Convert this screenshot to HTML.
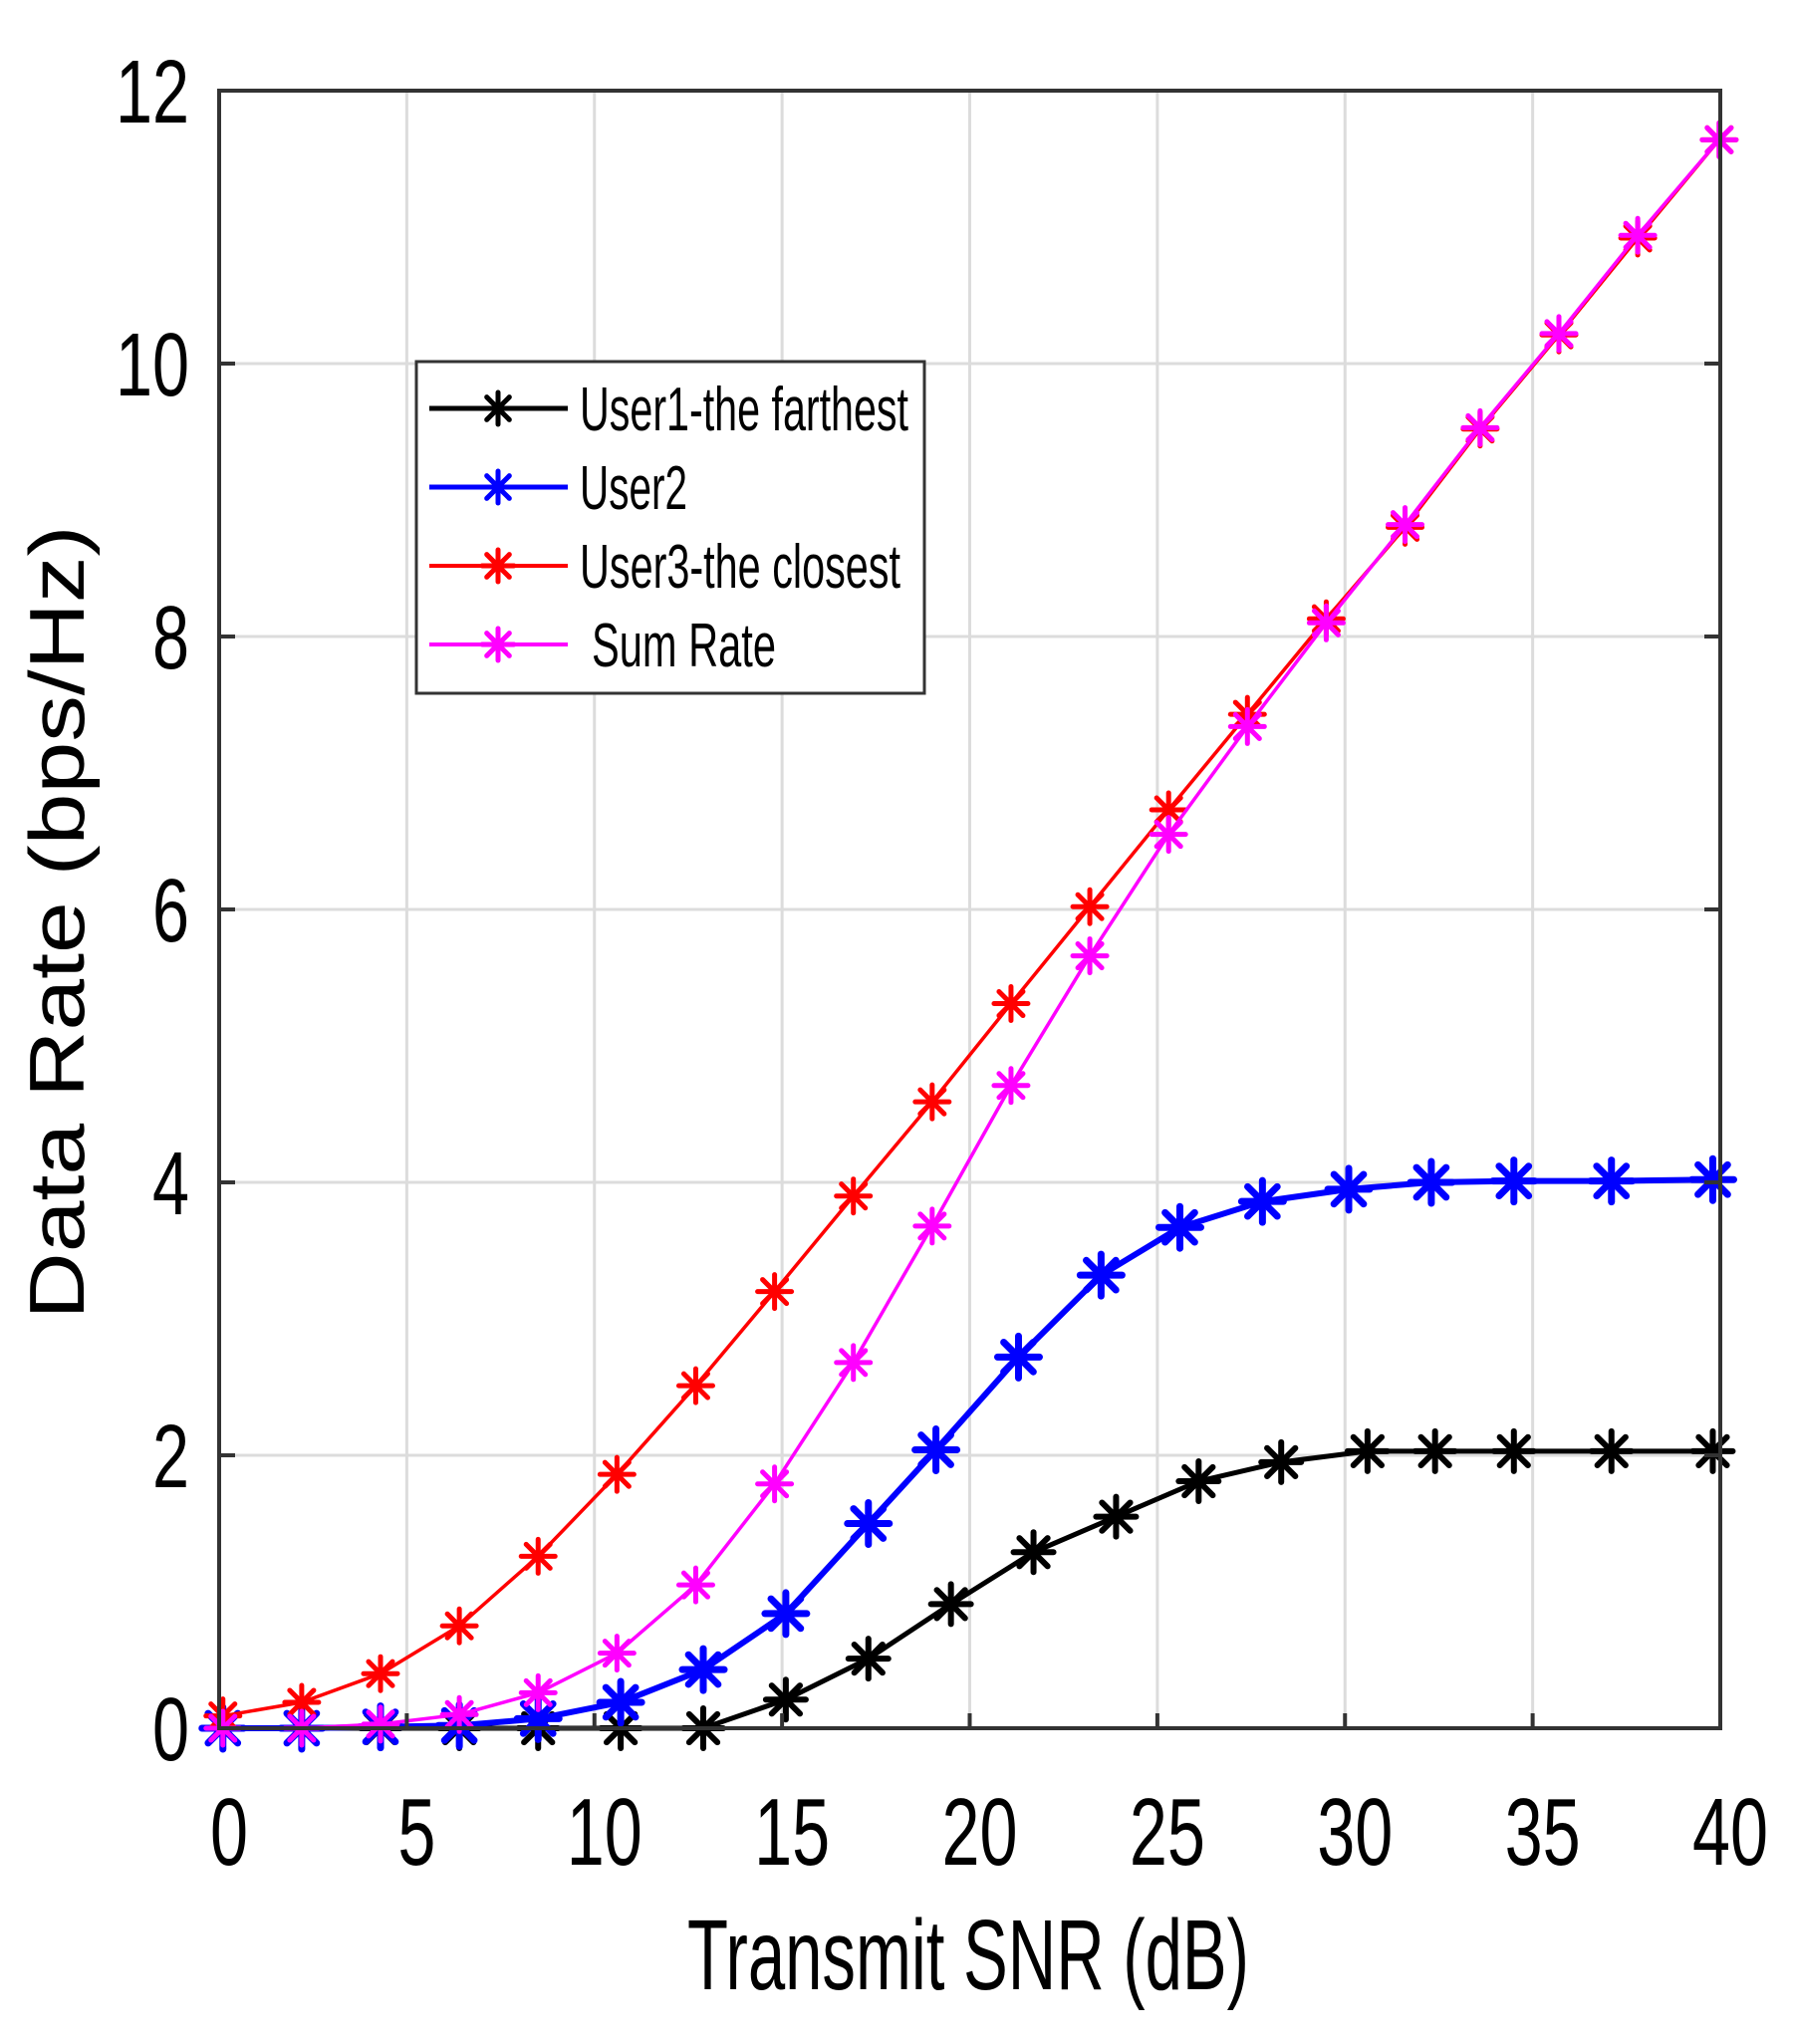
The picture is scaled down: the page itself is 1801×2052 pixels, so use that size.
<!DOCTYPE html>
<html><head><meta charset="utf-8"><style>
html,body{margin:0;padding:0;background:#fff;}
svg{display:block;}
text{font-family:"Liberation Sans",sans-serif;fill:#000;}
</style></head>
<body>
<svg id="chart" width="1801" height="2052" viewBox="0 0 1801 2052" xmlns="http://www.w3.org/2000/svg">
<rect x="0" y="0" width="1801" height="2052" fill="#fff"/>
<g id="grid"></g>
<g id="series"></g>
<rect x="220" y="91" width="1507" height="1644" fill="none" stroke="#333" stroke-width="4"/>
<g id="ticks"></g>
<text x="972" y="1997" font-size="100" text-anchor="middle" textLength="564" lengthAdjust="spacingAndGlyphs">Transmit SNR (dB)</text>
<text x="0" y="0" font-size="78" text-anchor="middle" textLength="797" lengthAdjust="spacingAndGlyphs" transform="translate(84,926) rotate(-90)">Data Rate (bps/Hz)</text>
<g id="legend"></g>
</svg>
<script>
var xTicks = [0,5,10,15,20,25,30,35,40];
var xTickLabels = ["0","5","10","15","20","25","30","35","40"];
var yTicks = [0,2,4,6,8,10,12];
var yTickLabels = ["0","2","4","6","8","10","12"];
var seriesNames = ["User1-the farthest","User2","User3-the closest","Sum Rate"];
var user1X = [0.1,2.2,4.3,6.4,8.5,10.7,12.9,15.1,17.3,19.5,21.7,23.9,26.1,28.3,30.6,32.4,34.5,37.1,39.8];
var user1Y = [0,0,0,0,0,0,0,0.21,0.51,0.91,1.29,1.55,1.81,1.95,2.03,2.03,2.03,2.03,2.03];
var user2X = [0.1,2.2,4.3,6.4,8.5,10.7,12.9,15.1,17.3,19.1,21.3,23.5,25.6,27.8,30.1,32.3,34.5,37.1,39.8];
var user2Y = [0,0,0.01,0.02,0.07,0.19,0.43,0.84,1.5,2.04,2.72,3.32,3.67,3.86,3.95,4.0,4.01,4.01,4.02];
var user3X = [0.1,2.2,4.3,6.4,8.5,10.6,12.7,14.8,16.9,19.0,21.1,23.2,25.3,27.4,29.5,31.6,33.6,35.7,37.8,39.97];
var user3Y = [0.09,0.19,0.4,0.75,1.26,1.86,2.51,3.2,3.9,4.59,5.31,6.02,6.73,7.43,8.13,8.8,9.52,10.21,10.92,11.64];
var sumX = [0.1,2.2,4.3,6.4,8.5,10.6,12.7,14.8,16.9,19.0,21.1,23.2,25.3,27.4,29.5,31.6,33.6,35.7,37.8,39.97];
var sumY = [0,0,0.03,0.1,0.26,0.55,1.05,1.79,2.68,3.68,4.71,5.66,6.55,7.34,8.1,8.82,9.53,10.22,10.94,11.64];

var NS = "http://www.w3.org/2000/svg";
function sx(v){ return 220 + v*(1507/40); }
function sy(v){ return 1735 - v*(1644/12); }
function mk(tag, attrs, parent){
  var e = document.createElementNS(NS, tag);
  for (var k in attrs) e.setAttribute(k, attrs[k]);
  parent.appendChild(e);
  return e;
}
var grid = document.getElementById('grid');
var ticks = document.getElementById('ticks');
var seriesG = document.getElementById('series');
var legend = document.getElementById('legend');

xTicks.forEach(function(t, i){
  var gl = mk('line', {x1:sx(t), x2:sx(t), y1:91, y2:1735, stroke:'#dcdcdc', 'stroke-width':3}, grid);
  
  
  var tk = mk('line', {x1:sx(t), x2:sx(t), y1:1735, y2:1720, stroke:'#333', 'stroke-width':4}, ticks);
  
  
  var txt = xTickLabels[i];
  var lb = mk('text', {x:sx(t)+10, y:1872, 'font-size':96, 'text-anchor':'middle', textLength:txt.length*38, lengthAdjust:'spacingAndGlyphs'}, ticks);
  
  
  lb.textContent = txt;
});
yTicks.forEach(function(t, i){
  var gl = mk('line', {x1:220, x2:1727, y1:sy(t), y2:sy(t), stroke:'#dcdcdc', 'stroke-width':3}, grid);
  
  
  var tk = mk('line', {x1:220, x2:236, y1:sy(t), y2:sy(t), stroke:'#333', 'stroke-width':4}, ticks);
  
  
  var tk2 = mk('line', {x1:1711, x2:1727, y1:sy(t), y2:sy(t), stroke:'#333', 'stroke-width':4}, ticks);
  
  
  var txt = yTickLabels[i];
  var lb = mk('text', {x:190, y:sy(t)+32, 'font-size':90, 'text-anchor':'end', textLength:txt.length*37, lengthAdjust:'spacingAndGlyphs'}, ticks);
  
  
  lb.textContent = txt;
});

function star(parent, cx, cy, r, color, w){
  var g = mk('g', {stroke:color, 'stroke-width':w, 'stroke-linecap':'round'}, parent);
  for (var a = 0; a < 4; a++){
    var ang = a*Math.PI/4 + Math.PI/2;
    var dx = Math.cos(ang)*r, dy = Math.sin(ang)*r;
    mk('line', {x1:cx-dx, y1:cy-dy, x2:cx+dx, y2:cy+dy}, g);
  }
  return g;
}

var seriesDefs = [
  {xs:user1X, ys:user1Y, color:'#000000', lw:5, r:20, mw:6, name:'series-user1'},
  {xs:user2X, ys:user2Y, color:'#0000ff', lw:6, r:21, mw:7, name:'series-user2'},
  {xs:user3X, ys:user3Y, color:'#ff0000', lw:3.5, r:17, mw:5, name:'series-user3'},
  {xs:sumX, ys:sumY, color:'#ff00ff', lw:3.5, r:17, mw:5, name:'series-sum-rate'}
];
seriesDefs.forEach(function(s){
  var g = mk('g', {}, seriesG);
  
  
  var pts = s.xs.map(function(x, i){ return sx(x)+','+sy(s.ys[i]); }).join(' ');
  var pl = mk('polyline', {points:pts, fill:'none', stroke:s.color, 'stroke-width':s.lw, 'stroke-linejoin':'round'}, g);
  
  
  s.xs.forEach(function(x, i){
    var m = star(g, sx(x), sy(s.ys[i]), s.r, s.color, s.mw);
    
    
  });
});

var lbox = mk('rect', {x:418, y:363, width:510, height:333, fill:'#fff', stroke:'#333', 'stroke-width':3}, legend);


var legY = [410, 489, 568, 647];
var legTextX = [582, 582, 582, 594];
var legLen = [330, 108, 322, 185];
seriesNames.forEach(function(n, i){
  var s = seriesDefs[i];
  var e = mk('g', {}, legend);
  
  
  mk('line', {x1:431, x2:570, y1:legY[i], y2:legY[i], stroke:s.color, 'stroke-width':(i<2?5:4)}, e);
  star(e, 500, legY[i], 16, s.color, 5);
  var t = mk('text', {x:legTextX[i], y:legY[i]+22, 'font-size':62, textLength:legLen[i], lengthAdjust:'spacingAndGlyphs'}, e);
  
  
  t.textContent = n;
});
</script>
</body></html>
